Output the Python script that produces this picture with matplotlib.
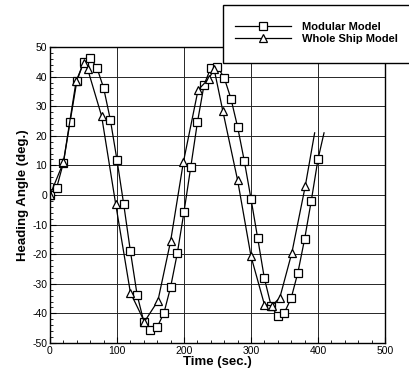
import numpy as np
import matplotlib
matplotlib.use("Agg")
import matplotlib.pyplot as plt
from matplotlib.patches import Rectangle
from matplotlib.ticker import MultipleLocator

plt.rcParams['font.family'] = ['Liberation Sans', 'DejaVu Sans']
plt.rcParams['axes.unicode_minus'] = False

# Modular Model (squares), sampled every 10 s
t_mod = [0, 10, 20, 30, 40, 50, 60, 70, 80, 90, 100, 110, 120, 130, 140, 150,
         160, 170, 180, 190, 200, 210, 220, 230, 240, 250, 260, 270, 280, 290,
         300, 310, 320, 330, 340, 350, 360, 370, 380, 390, 400]
h_mod = [0, 2.5, 10.9, 24.8, 38.4, 44.9, 46.3, 43.0, 36.2, 25.5, 11.8, -3.1,
         -19.0, -33.7, -42.8, -45.7, -44.6, -39.9, -31.1, -19.7, -5.7, 9.3,
         24.5, 37.3, 42.9, 43.3, 39.6, 32.6, 23.0, 11.5, -1.3, -14.6, -28.2,
         -37.4, -41.0, -39.7, -34.8, -26.2, -14.9, -1.9, 12.1]
# end of the modular curve (line only)
t_mod_end = [409]
h_mod_end = [21]

# Whole Ship Model (triangles)
t_whole = [0, 20, 39, 50, 56, 77, 98, 120, 141, 161, 180, 199, 221, 237, 245,
           258, 280, 300, 320, 331, 343, 361, 381]
h_whole = [0, 11.0, 38.5, 44.5, 42.7, 26.7, -3.0, -33.0, -42.8, -35.8, -15.6,
           11.0, 35.5, 39.3, 42.5, 28.3, 5.0, -20.7, -37.0, -37.5, -34.7,
           -19.5, 3.0]
t_whole_end = [395]
h_whole_end = [21]

fig = plt.figure(figsize=(4.10, 3.72), dpi=100)
ax = fig.add_axes([50/410, 1-343/372, 335/410, 296/372])

ax.plot(t_mod + t_mod_end, h_mod + h_mod_end, color='black', lw=0.9,
        marker='s', markersize=5.5, markerfacecolor='white',
        markeredgecolor='black', markeredgewidth=0.9,
        markevery=list(range(len(t_mod))), label='Modular Model')
ax.plot(t_whole + t_whole_end, h_whole + h_whole_end, color='black', lw=0.9,
        marker='^', markersize=6, markerfacecolor='white',
        markeredgecolor='black', markeredgewidth=0.9,
        markevery=list(range(len(t_whole))), label='Whole Ship Model')

ax.set_xlim(0, 500)
ax.set_ylim(-50, 50)
ax.xaxis.set_major_locator(MultipleLocator(100))
ax.xaxis.set_minor_locator(MultipleLocator(20))
ax.yaxis.set_major_locator(MultipleLocator(10))
ax.yaxis.set_minor_locator(MultipleLocator(2))
ax.tick_params(which='both', direction='in', top=False, right=False,
               labelsize=7.5, pad=2)
ax.tick_params(which='major', length=4, width=0.8)
ax.tick_params(which='minor', length=2.5, width=0.6)
ax.grid(True, which='major', color='0.15', lw=0.7)
for s in ax.spines.values():
    s.set_linewidth(1.0)

ax.set_xlabel('Time (sec.)', fontsize=9.5, fontweight='bold', labelpad=0)
ax.set_ylabel('Heading Angle (deg.)', fontsize=9.5, fontweight='bold',
              labelpad=2)

# legend box that runs off the right edge
box = Rectangle((223/410, 1-63/372), 0.6, 58/372, transform=fig.transFigure,
                facecolor='white', edgecolor='black', lw=1.0, zorder=3,
                clip_on=False)
fig.patches.append(box)

h, l = ax.get_legend_handles_labels()
leg = fig.legend(h, l, loc='upper left', bbox_to_anchor=(235/410, 1-22/372),
                 frameon=False, fontsize=8, prop={'weight': 'bold', 'size': 8},
                 handlelength=5.0, handletextpad=1.0, labelspacing=0.15,
                 borderpad=0, borderaxespad=0)
leg.set_zorder(5)

fig.savefig('out.png', dpi=100)
